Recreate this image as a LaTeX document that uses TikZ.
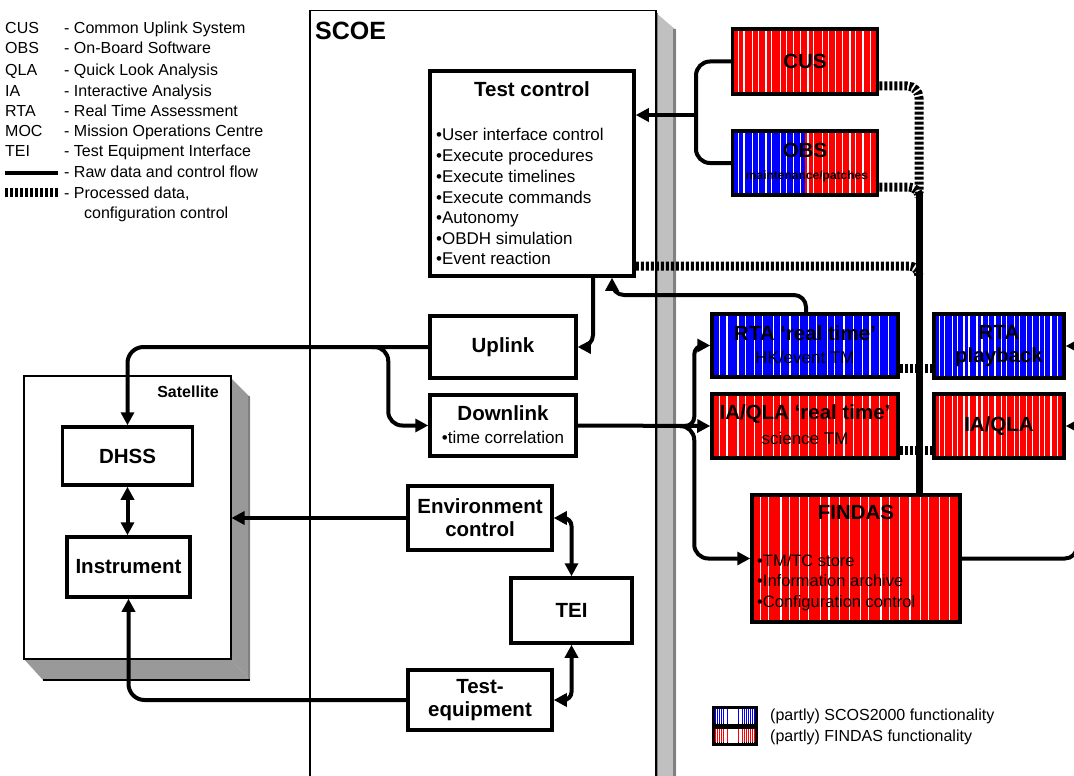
\documentclass[tikz,border=0pt]{standalone}
\usepackage{fontspec}
\setmainfont{Liberation Sans}
\usetikzlibrary{arrows.meta,calc}
\definecolor{sred}{RGB}{255,0,0}
\definecolor{sblue}{RGB}{0,0,255}
\definecolor{shlight}{RGB}{192,192,192}
\definecolor{shdark}{RGB}{128,128,128}
\definecolor{satgray}{RGB}{153,153,153}
\tikzset{
  stripelines/.style={path picture={
    \foreach \f in {0.04,0.08,0.14,0.18,0.23,0.27,0.33,0.37,0.42,0.47,0.52,0.56,0.62,0.66,0.71,0.76,0.81,0.85,0.9,0.95}{
      \draw[white,line width=1.3pt] ($(path picture bounding box.north west)!\f!(path picture bounding box.north east)$) -- ++(0pt,-300pt);}}},
  splitlines/.style={path picture={
    \fill[sblue] (path picture bounding box.north west) rectangle ($(path picture bounding box.south west)!0.5!(path picture bounding box.south east)$);
    \foreach \f in {0.04,0.08,0.14,0.18,0.23,0.27,0.33,0.37,0.42,0.47,0.52,0.56,0.62,0.66,0.71,0.76,0.81,0.85,0.9,0.95}{
      \draw[white,line width=1.3pt] ($(path picture bounding box.north west)!\f!(path picture bounding box.north east)$) -- ++(0pt,-300pt);}}},
  box/.style={draw, line width=3.5pt, fill=white, inner sep=0pt},
  cbox/.style={draw, line width=3.5pt, fill=#1, inner sep=0pt, stripelines},
  lg/.style={font=\fontsize{16}{18}\selectfont, anchor=west, inner sep=0pt},
  bt/.style={font=\fontsize{20.5}{23}\selectfont\bfseries, inner sep=0pt, align=center},
  nt/.style={font=\fontsize{17}{20}\selectfont, inner sep=0pt},
  conn/.style={line width=4pt},
  arr/.style={-{Triangle[length=13pt,width=13pt]}},
  darr/.style={{Triangle[length=13pt,width=13pt]}-{Triangle[length=13pt,width=13pt]}},
  proc/.style={line width=9pt, dash pattern=on 3pt off 2pt},
}
\begin{document}
\begin{tikzpicture}[x=1pt,y=-1pt]
\useasboundingbox (0,0) rectangle (1074,776);
\clip (0,0) rectangle (1074,776);
\fill[white] (0,0) rectangle (1074,776);

% ---------------- legend top-left
\foreach \y/\a/\d in {28/CUS/Common Uplink System, 48/OBS/On-Board Software, 69/QLA/Quick Look Analysis, 90/IA/Interactive Analysis, 110/RTA/Real Time Assessment, 130/MOC/Mission Operations Centre, 150/TEI/Test Equipment Interface}{
  \node[lg,anchor=base west] (ab\y) at (5,\y+6) {\a};
  \node[lg,anchor=base west] (de\y) at (64,\y+6) {- \d};
}
\coordinate (lr1) at (5,173);
\coordinate (lr2) at (58,173);
\draw[conn] (lr1) -- (lr2);
\node[lg,anchor=base west] (deraw) at (64,177) {- Raw data and control flow};
\coordinate (lp1) at (5,192);
\coordinate (lp2) at (58,192);
\draw[proc] (lp1) -- (lp2);
\node[lg,anchor=base west] (depro) at (64,198) {- Processed data,};
\node[lg,anchor=base west] (depro2) at (84,218) {configuration control};

% ---------------- SCOE shadow and box
\fill[shlight] (655,12) -- (676,30) -- (676,800) -- (655,800) -- cycle;
\draw[shdark,line width=3pt] (656.5,13) -- (656.5,800);
\draw[shdark,line width=3pt] (674.5,29) -- (674.5,800);
\node[draw,line width=1.5pt,minimum width=346,minimum height=800,anchor=north west,inner sep=0pt] (scoe) at (309,10) {};
\node[font=\fontsize{25}{28}\selectfont\bfseries,anchor=west,inner sep=0pt] (scoet) at (315,31) {SCOE};

% ---------------- Satellite
\fill[satgray] (230,377) -- (250,397) -- (250,680) -- (230,658) -- cycle;
\fill[satgray] (23,658) -- (230,658) -- (250,680) -- (43,680) -- cycle;
\draw[shdark,line width=2pt] (231,378) -- (231,658);
\draw[shdark,line width=2pt] (249,396) -- (249,680);
\draw[line width=2pt] (43,680) -- (250,680);
\node[draw,line width=1.5pt,fill=white,minimum width=207,minimum height=283,anchor=north west,inner sep=0pt] (sat) at (23,375) {};
\node[font=\fontsize{16}{18}\selectfont\bfseries,inner sep=0pt] (satt) at (188,392) {Satellite};
\node[box,minimum width=130,minimum height=58] (dhss) at (127.5,456) {};
\node[bt] at (dhss) {DHSS};
\node[box,minimum width=123,minimum height=60] (inst) at (128.5,567) {};
\node[bt] at (inst) {Instrument};

% ---------------- SCOE boxes
\node[box,minimum width=204,minimum height=205] (tc) at (532,173.5) {};
\node[bt] (tct) at (532,89) {Test control};
\foreach \y/\t in {140/User interface control,161/Execute procedures,182/Execute timelines,203/Execute commands,223/Autonomy,244/OBDH simulation,264/Event reaction}{
  \node[nt,anchor=base west] (tcb\y) at (436,\y) {•\t};
}
\node[box,minimum width=146,minimum height=62] (up) at (503,347) {};
\node[bt] at (up) {Uplink};
\node[box,minimum width=146,minimum height=61] (dl) at (503,425.5) {};
\node[bt] (dlt) at (503,413) {Downlink};
\node[nt] (dlb) at (503,437) {•time correlation};
\node[box,minimum width=144,minimum height=64] (env) at (480,518) {};
\node[bt] at (env) {Environment\\control};
\node[box,minimum width=121,minimum height=65] (tei) at (571.5,610.5) {};
\node[bt] at (tei) {TEI};
\node[box,minimum width=144,minimum height=60] (te) at (480,700) {};
\node[bt] at (te) {Test-\\equipment};

% ---------------- right side boxes
\node[cbox=sred,minimum width=145,minimum height=65] (cus) at (805,61.5) {};
\node[bt] at (cus) {CUS};
\node[draw,line width=3.5pt,fill=sred,inner sep=0pt,splitlines,minimum width=145,minimum height=64] (obs) at (805,163) {};
\node[bt] (obst) at (805,150) {OBS};
\node[font=\fontsize{12}{14}\selectfont\bfseries,inner sep=0pt] (obsb) at (807,176) {maintenance/patches};
\node[cbox=sblue,minimum width=186,minimum height=63] (rtart) at (805,345.5) {};
\node[bt] (rtat1) at (805,333) {RTA ‘real time’};
\node[nt] (rtat2) at (805,357) {HK/event TM};
\node[cbox=sred,minimum width=186,minimum height=64] (iart) at (805,426) {};
\node[bt] (iat1) at (805,414) {IA/QLA ‘real time’};
\node[nt] (iat2) at (805,438) {science TM};
\node[cbox=sblue,minimum width=130,minimum height=64] (rtapb) at (999,346) {};
\node[bt] at (rtapb) {RTA\\playback};
\node[cbox=sred,minimum width=130,minimum height=64] (iapb) at (999,426) {};
\node[bt] at (iapb) {IA/QLA};
\node[cbox=sred,minimum width=208,minimum height=127] (findas) at (856,558.5) {};
\node[bt] (fit) at (856,512) {FINDAS};
\foreach \y/\t in {566/{TM/TC store},586/{Information archive},607/{Configuration control}}{
  \node[font=\fontsize{16.5}{19}\selectfont,anchor=base west,inner sep=0pt] (fb\y) at (757,\y) {•\t};
}

% ---------------- bottom legend
\node[fill=black,minimum width=46,minimum height=40,anchor=north west,inner sep=0pt] (swb) at (712,706) {};
\node[fill=sblue,inner sep=0pt,stripelines,minimum width=40,minimum height=14,anchor=north west] (sw1) at (715,709) {};
\node[fill=sred,inner sep=0pt,stripelines,minimum width=40,minimum height=13,anchor=north west] (sw2) at (715,729) {};
\node[lg] (lgs1) at (770,716) {(partly) SCOS2000 functionality};
\node[lg] (lgs2) at (770,737) {(partly) FINDAS functionality};

% ---------------- processed data connectors
\coordinate (vtop) at (919,193);
\draw[proc,rounded corners=12] (cus.east |- 0,86) -- (919,86) -- (vtop);
\draw[proc,rounded corners=10] (obs.east |- 0,187) -- (919,187) -- (919,197);
\draw[proc,rounded corners=10] (tc.east |- 0,266) -- (919,266) -- (919,276);
\draw[line width=7pt] (vtop) -- (findas.north -| vtop);
\draw[proc] (rtart.east |- 0,368) -- (rtapb.west |- 0,368);
\draw[proc] (iart.east |- 0,450) -- (iapb.west |- 0,450);

% ---------------- raw data connectors
\coordinate (j1) at (696,115);
\draw[conn,rounded corners=14] (cus.west) -| (j1);
\draw[conn,rounded corners=14] (obs.west) -| (j1);
\draw[conn,arr] (j1) -- (tc.east |- j1);

\draw[conn,arr,rounded corners=12] (tc.south -| 593,0) |- (up.east);
\draw[conn,arr,rounded corners=12] (rtart.north -| 806,0) -- (806,295) -- (612,295) -- (tc.south -| 612,0);

\draw[conn,arr,rounded corners=16] (up.west) -| (dhss.north);
\coordinate (j2) at (372,347);
\draw[conn,arr,rounded corners=14] (j2) -| ([xshift=-40pt]dl.west) -- (dl.west);

\coordinate (j3) at (680,426);
\draw[conn,arr] (dl.east) -- (iart.west);
\draw[conn,arr,rounded corners=9] (j3) -| ([xshift=-16pt]rtart.west) -- (rtart.west);
\draw[conn,arr,rounded corners=14] (j3) -| ([xshift=-56pt]findas.west) -- (findas.west);

\coordinate (rf) at (1077,558.5);
\coordinate (rtop) at (1077,300);
\draw[conn,rounded corners=12] (findas.east) -- (rf) -- (rtop);
\draw[conn,arr] (rtapb.east -| rf) -- (rtapb.east);
\draw[conn,arr] (iapb.east -| rf) -- (iapb.east);

\draw[conn,arr] (env.west) -- (sat.east |- env.west);
\draw[conn,darr,rounded corners=8] (env.east) -| (tei.north);
\draw[conn,darr,rounded corners=8] (te.east) -| (tei.south);
\draw[conn,arr,rounded corners=16] (te.west) -| (inst.south);
\draw[conn,darr] (dhss.south) -- (dhss.south |- inst.north);
\end{tikzpicture}
\end{document}
